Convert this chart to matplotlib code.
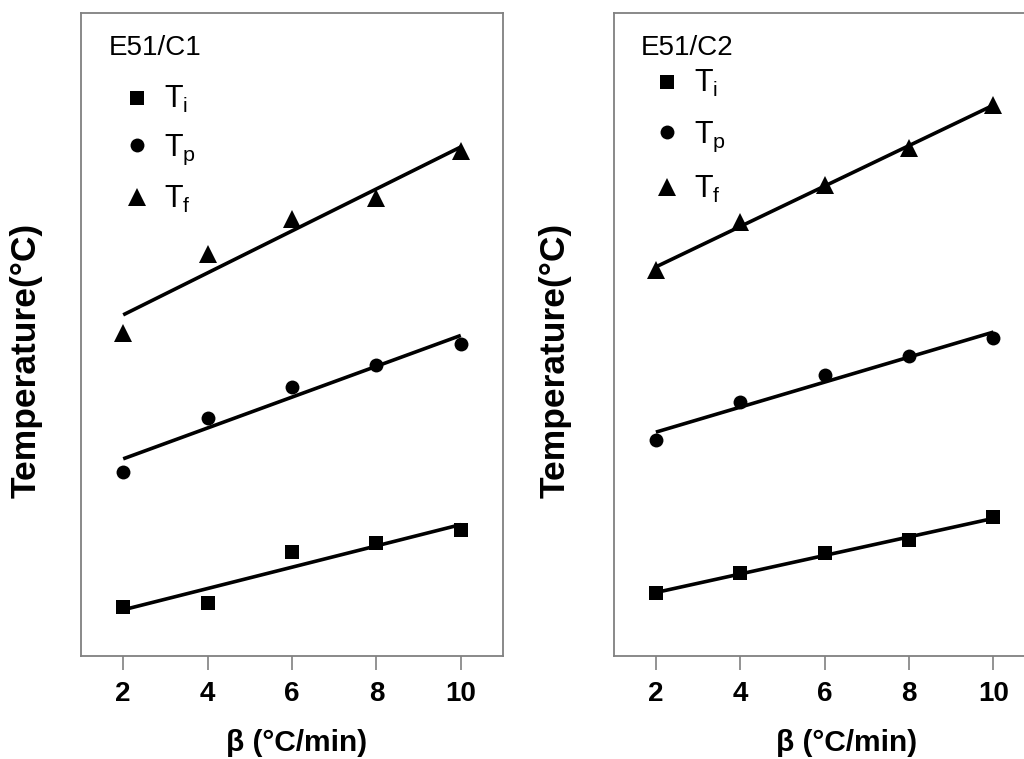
import numpy as np
import matplotlib
matplotlib.use("Agg")
import matplotlib.pyplot as plt
from matplotlib.lines import Line2D

plt.rcParams['font.family'] = ['Liberation Sans', 'DejaVu Sans']
plt.rcParams['mathtext.fontset'] = 'custom'
plt.rcParams['mathtext.rm'] = 'Liberation Sans'
plt.rcParams['mathtext.it'] = 'Liberation Sans:italic'

# heating rate (°C/min)
beta = [2, 4, 6, 8, 10]

# E51/C1 characteristic temperatures (°C)
c1_ti = [69.9, 70.6, 80.9, 82.7, 85.4]
c1_tp = [97.2, 108.1, 114.4, 118.7, 123.1]
c1_tf = [125.3, 141.3, 148.3, 152.6, 162.1]

# E51/C2
c2_ti = [72.6, 76.7, 80.7, 83.4, 88.0]
c2_tp = [103.6, 111.4, 116.8, 120.6, 124.3]
c2_tf = [138.0, 147.7, 155.2, 162.7, 171.4]

panels = ['E51/C1', 'E51/C2']
series_labels = [r'$\mathrm{T_i}$', r'$\mathrm{T_p}$', r'$\mathrm{T_f}$']
markers = ['s', 'o', '^']
msizes = [9.5, 10, 12.5]

fig = plt.figure(figsize=(10.24, 7.59), dpi=100)
ax1 = fig.add_axes([0.0791, 0.1361, 0.4121, 0.8468])
ax2 = fig.add_axes([0.5993, 0.1361, 0.4121, 0.8468])

data = [[c1_ti, c1_tp, c1_tf], [c2_ti, c2_tp, c2_tf]]
legend_pos = [(0.097, 0.889), (0.09, 0.914)]
legend_space = [0.565, 0.66]
ylab_x = [-0.092, -0.099]
xlab_x = [0.512, 0.553]

for k, ax in enumerate([ax1, ax2]):
    for vals, m, ms in zip(data[k], markers, msizes):
        ax.plot(beta, vals, ls='none', marker=m, ms=ms, color='black',
                markeredgewidth=0)
        fit = np.polyfit(beta, vals, 1)
        xs = np.array([beta[0], beta[-1]])
        ax.plot(xs, np.polyval(fit, xs), color='black', lw=2.6,
                solid_capstyle='butt')

    ax.set_xlim(1, 11)
    ax.set_ylim(60, 190)
    ax.set_xticks(beta)
    ax.set_yticks([])
    ax.tick_params(axis='x', direction='out', length=10, width=1.2,
                   color='#808080', pad=8, labelsize=20)
    for lab in ax.get_xticklabels():
        lab.set_fontweight('bold')
    for sp in ax.spines.values():
        sp.set_color('#808080')
        sp.set_linewidth(1.3)

    ax.set_ylabel('Temperature(°C)', fontsize=25.5, fontweight='bold')
    ax.yaxis.set_label_coords(ylab_x[k], 0.46)
    ax.set_xlabel('β (°C/min)', fontsize=21.5, fontweight='bold')
    ax.xaxis.set_label_coords(xlab_x[k], -0.114)

    ax.text(0.065, 0.945, panels[k], transform=ax.transAxes, fontsize=20,
            va='center', ha='left')

    handles = [Line2D([], [], ls='none', marker=m, ms=ms, color='black',
                      markeredgewidth=0)
               for m, ms in zip(markers, msizes)]
    ax.legend(handles, series_labels, loc='upper left',
              bbox_to_anchor=legend_pos[k], frameon=False, fontsize=22,
              borderpad=0, borderaxespad=0, handlelength=1.0,
              handletextpad=0.37, labelspacing=legend_space[k])

fig.savefig('out.png', dpi=100)
